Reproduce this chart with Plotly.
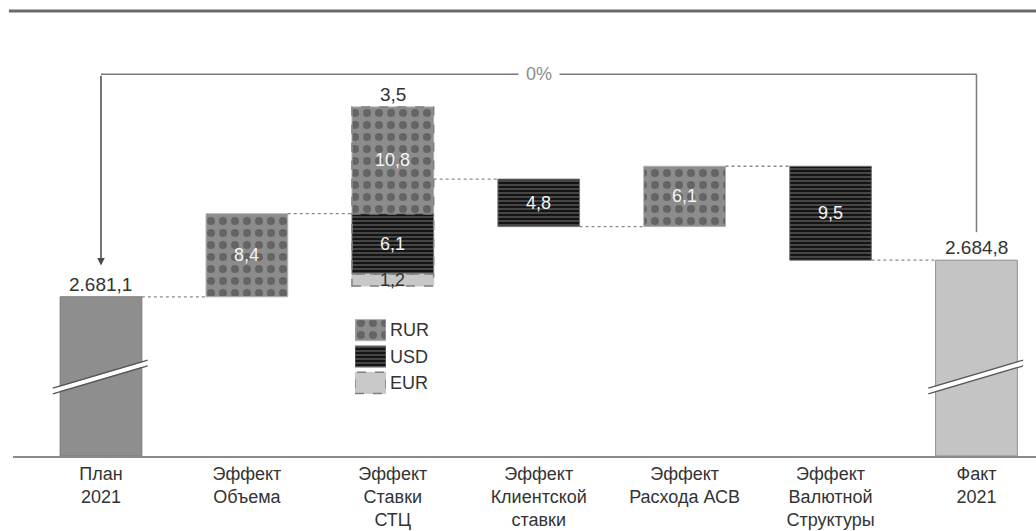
import plotly.graph_objects as go

# ---- data -------------------------------------------------------------
categories = ["План<br>2021", "Эффект<br>Объема", "Эффект<br>Ставки<br>СТЦ",
              "Эффект<br>Клиентской<br>ставки", "Эффект<br>Расхода АСВ",
              "Эффект<br>Валютной<br>Структуры", "Факт<br>2021"]
plan_value = 2681.1
fact_value = 2684.8
# signed contribution of each effect column, split by currency
rur = [None, 8.4, 10.8, None, 6.1, None, None]
usd = [None, None, -6.1, -4.8, None, -9.5, None]
eur = [None, None, -1.2, None, None, None, None]
currencies = ["RUR", "USD", "EUR"]
change_label = "0%"

# ---- styling ----------------------------------------------------------
FONT = "Liberation Sans, Arial, sans-serif"
AXIS_MIN, AXIS_MAX = 2665.0, 2710.0
BAR_W = 0.56
STYLE = {
    "RUR": dict(color="#858585", pattern=dict(shape=".", fgcolor="#3c3c3c", bgcolor="#8c8c8c",
                                              size=12, solidity=0.35),
                line="#b0b0b0", text="#f4f4f4"),
    "USD": dict(color="#161616", pattern=dict(shape="-", fgcolor="#b8b8b8", bgcolor="#141414",
                                              size=4, solidity=0.3),
                line="#777777", text="#f4f4f4"),
    "EUR": dict(color="#c8c8c8", pattern=dict(shape=""), line="#c8c8c8", text="#333333"),
}


def fmt(v):
    s = f"{abs(v):,.1f}"
    return s.replace(",", " ").replace(".", ",").replace(" ", ".")


# ---- waterfall geometry from the contributions ------------------------
series = {"RUR": rur, "USD": usd, "EUR": eur}
segments = {c: [] for c in currencies}      # (x, base, height, signed value)
levels = [plan_value]
column_tops = {}
level = plan_value
for i in range(1, len(categories) - 1):
    up = down = level
    net = 0.0
    parts = 0
    for c in currencies:
        v = series[c][i]
        if v is None:
            continue
        parts += 1
        net += v
        if v >= 0:
            segments[c].append((i, up, v, v))
            up += v
        else:
            down += v
            segments[c].append((i, down, -v, v))
    if parts > 1:
        column_tops[i] = (up, net, down)
    level += net
    levels.append(level)

fig = go.Figure()

# totals (plan / fact) standing on the broken axis
fig.add_trace(go.Bar(
    x=[0, len(categories) - 1], base=AXIS_MIN,
    y=[plan_value - AXIS_MIN, fact_value - AXIS_MIN], width=BAR_W,
    marker=dict(color=["#8e8e8e", "#c4c4c4"], line=dict(color=["#7a7a7a", "#8f8f8f"], width=1)),
    hoverinfo="skip", showlegend=False))

# currency contributions
for c in currencies:
    segs = segments[c]
    st = STYLE[c]
    fig.add_trace(go.Bar(
        x=[s[0] for s in segs], base=[s[1] for s in segs], y=[s[2] for s in segs],
        width=BAR_W, name=c,
        marker=dict(color=st["color"], pattern=st["pattern"], line=dict(color=st["line"], width=1)),
        hoverinfo="skip", showlegend=False))

annotations = []
shapes = []

# values inside each segment
for c in currencies:
    for x, base, h, v in segments[c]:
        annotations.append(dict(x=x, y=base + h / 2, xref="x", yref="y", text=fmt(v),
                                showarrow=False, yanchor="middle",
                                font=dict(size=18, color=STYLE[c]["text"], family=FONT)))

# dashed outlines on the mixed-currency column
for c in currencies:
    for x, base, h, v in segments[c]:
        if x in column_tops or c == "EUR":
            shapes.append(dict(type="rect", xref="x", yref="y", x0=x - BAR_W / 2, x1=x + BAR_W / 2,
                               y0=base, y1=base + h, line=dict(color="#808080", width=1.5, dash="dash"),
                               layer="above"))

# net value above the mixed-currency column
for x, (top, net, _) in column_tops.items():
    annotations.append(dict(x=x, y=top, xref="x", yref="y", text=fmt(net), showarrow=False,
                            yanchor="bottom", yshift=0, font=dict(size=19, color="#333333", family=FONT)))

# totals labels
for x, v in ((0, plan_value), (len(categories) - 1, fact_value)):
    annotations.append(dict(x=x, y=v, xref="x", yref="y", text=fmt(v), showarrow=False,
                            yanchor="bottom", yshift=0, font=dict(size=19, color="#333333", family=FONT)))

# dotted connectors between columns
for i, lv in enumerate(levels):
    shapes.append(dict(type="line", xref="x", yref="y", x0=i + BAR_W / 2, x1=i + 1 - BAR_W / 2,
                       y0=lv, y1=lv, line=dict(color="#8a8a8a", width=1.3, dash="dot")))

# axis-break marks on the totals
for x in (0, len(categories) - 1):
    x0, x1 = x - 0.33, x + 0.32
    y0, y1 = 0.146, 0.209
    shapes.append(dict(type="line", xref="x", yref="y domain", x0=x0, x1=x1, y0=y0, y1=y1,
                       line=dict(color="#ffffff", width=4)))
    for d in (-0.0065, 0.0065):
        shapes.append(dict(type="line", xref="x", yref="y domain", x0=x0, x1=x1, y0=y0 + d, y1=y1 + d,
                           line=dict(color="#555555", width=1.2)))

# bracket comparing plan and fact
BRACKET_Y = 0.858
last = len(categories) - 1
shapes.append(dict(type="line", xref="x", yref="y domain", x0=0, x1=last, y0=BRACKET_Y, y1=BRACKET_Y,
                   line=dict(color="#7a7a7a", width=1.5)))
shapes.append(dict(type="line", xref="x", yref="y domain", x0=last, x1=last, y0=BRACKET_Y, y1=0.503,
                   line=dict(color="#7a7a7a", width=1.5)))
annotations.append(dict(x=0, y=0.428, xref="x", yref="y domain", ax=0, ay=BRACKET_Y,
                        axref="x", ayref="y domain", showarrow=True, arrowhead=2, arrowsize=1,
                        arrowwidth=1.5, arrowcolor="#4a4a4a", text=""))
annotations.append(dict(x=last / 2, y=BRACKET_Y, xref="x", yref="y domain", text=change_label,
                        showarrow=False, bgcolor="#ffffff", borderpad=7,
                        xanchor="center", yanchor="middle",
                        font=dict(size=18, color="#8c8c8c", family=FONT)))

# top rule
shapes.append(dict(type="line", xref="paper", yref="paper", x0=-0.004, x1=1, y0=1, y1=1,
                   line=dict(color="#6a6a6a", width=3)))

# currency key drawn as a small inset chart
for k, c in enumerate(currencies):
    st = STYLE[c]
    fig.add_trace(go.Bar(
        x=[1], y=[len(currencies) - 1 - k], base=0, orientation="h", width=0.8,
        xaxis="x2", yaxis="y2",
        marker=dict(color=st["color"], pattern=st["pattern"], line=dict(color=st["line"], width=1)),
        hoverinfo="skip", showlegend=False))
    annotations.append(dict(x=1, y=len(currencies) - 1 - k, xref="x2", yref="y2", text=c,
                            showarrow=False, xanchor="left", yanchor="middle", xshift=2,
                            font=dict(size=18, color="#333333", family=FONT)))
shapes.append(dict(type="rect", xref="x2", yref="y2", x0=0, x1=1, y0=-0.4, y1=0.4,
                   line=dict(color="#808080", width=1.5, dash="dash")))

fig.update_layout(
    width=1036, height=531,
    margin=dict(l=13, r=0, t=11, b=75),
    paper_bgcolor="#ffffff", plot_bgcolor="#ffffff",
    barmode="overlay",
    font=dict(family=FONT, color="#333333"),
    xaxis=dict(range=[-0.603, 6.408], tickvals=list(range(len(categories))), ticktext=categories,
               showgrid=False, zeroline=False, showline=True, linecolor="#8a8a8a", linewidth=2,
               ticks="", tickfont=dict(size=18, color="#333333", family=FONT), fixedrange=True),
    yaxis=dict(range=[AXIS_MIN, AXIS_MAX], visible=False, fixedrange=True),
    xaxis2=dict(domain=[0.3343, 0.3646], range=[0, 1], visible=False, anchor="y2"),
    yaxis2=dict(domain=[0.1348, 0.3124], range=[-0.5, 2.5], visible=False, anchor="x2"),
    shapes=shapes, annotations=annotations,
)

fig.write_html("out.html")
